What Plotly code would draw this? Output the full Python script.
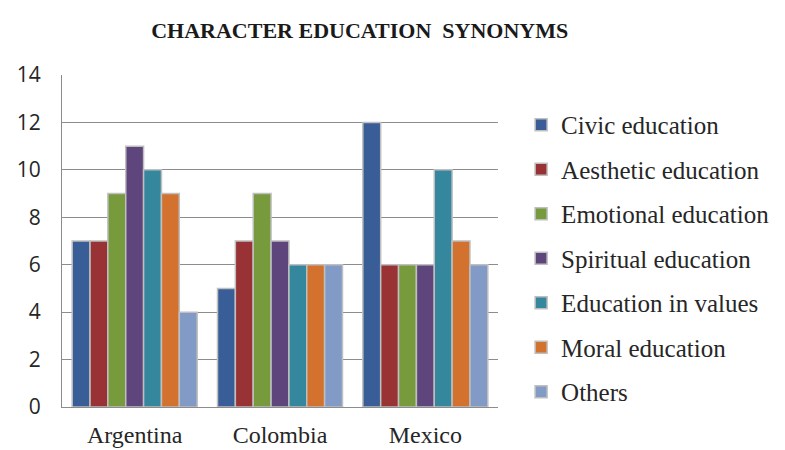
import plotly.graph_objects as go

countries = ["Argentina", "Colombia", "Mexico"]
civic = [7, 5, 12]
aesthetic = [7, 7, 6]
emotional = [9, 9, 6]
spiritual = [11, 7, 6]
values_ed = [10, 6, 10]
moral = [9, 6, 7]
others = [4, 6, 6]
series_values = [civic, aesthetic, emotional, spiritual, values_ed, moral, others]
colors = ["#385D97", "#983234", "#779A3D", "#5E457C", "#35879E", "#D3722F", "#819AC6"]
legend_labels = ["Civic education", "Aesthetic education", "Emotional education",
                 "Spiritual education", "Education in values", "Moral education", "Others"]

fig = go.Figure()
for i, (name, vals, col) in enumerate(zip(legend_labels, series_values, colors)):
    fig.add_trace(go.Bar(
        x=countries, y=vals, name=name, legendgroup=f"g{i}",
        marker=dict(color=col, line=dict(color="#BFBFBF", width=1.5)),
    ))

# page has an 8px body margin; margins compensate so plot spans x 62..498, y 75..407
fig.update_layout(
    width=785, height=450,
    margin=dict(l=54, r=295, t=67, b=51),
    paper_bgcolor="white", plot_bgcolor="white",
    barmode="group", bargap=0.14, bargroupgap=0,
    title=dict(text="<b>CHARACTER EDUCATION&nbsp; SYNONYMS</b>", x=0.448, xref="container",
               y=1 - 22 / 450, yref="container", xanchor="center", yanchor="middle",
               font=dict(family="Liberation Serif", size=22, color="#1a1a1a")),
    legend=dict(x=1.053, xanchor="left", y=0.919, yanchor="top",
                font=dict(family="Liberation Serif", size=25, color="#262626"),
                tracegroupgap=9, traceorder="grouped", bgcolor="rgba(0,0,0,0)"),
    showlegend=True,
)
fig.update_yaxes(range=[0, 14], dtick=2, showgrid=True, gridcolor="#8C8C8C", gridwidth=1.3,
                 showline=True, linecolor="#8C8C8C", linewidth=1.3, zeroline=False,
                 tickfont=dict(family="Open Sans", size=21, color="#262626"),
                 ticks="outside", ticklen=0, ticklabelstandoff=16, automargin=False)
fig.update_xaxes(showline=True, linecolor="#8C8C8C", linewidth=1.3,
                 tickfont=dict(family="Liberation Serif", size=24, color="#262626"),
                 ticklabelstandoff=6, automargin=False)

fig.write_html("out.html")
